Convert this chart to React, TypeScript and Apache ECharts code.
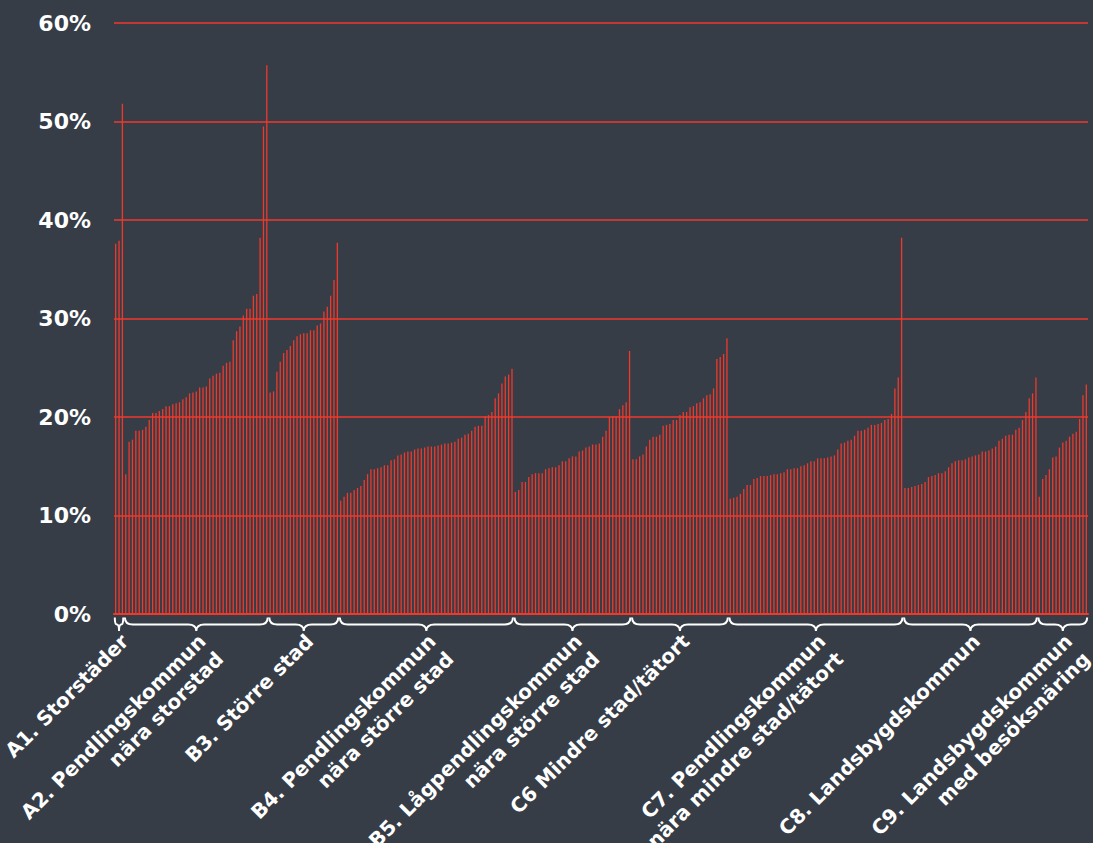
import React, { useEffect, useRef } from "react";
import * as echarts from "echarts";

const groupNames = [
  "A1. Storstäder",
  "A2. Pendlingskommun\nnära storstad",
  "B3. Större stad",
  "B4. Pendlingskommun\nnära större stad",
  "B5. Lågpendlingskommun\nnära större stad",
  "C6 Mindre stad/tätort",
  "C7. Pendlingskommun\nnära mindre stad/tätort",
  "C8. Landsbygdskommun",
  "C9. Landsbygdskommun\nmed besöksnäring",
];

const a1 = [37.6, 37.9, 51.8];
const a2 = [14.2, 17.5, 17.7, 18.6, 18.6, 18.7, 19.0, 19.7, 20.4, 20.4, 20.6, 20.8, 21.1, 21.1, 21.3, 21.4, 21.5, 21.8, 22.0, 22.4, 22.5, 22.6, 23.0, 23.0, 23.1, 23.9, 24.2, 24.4, 24.5, 25.2, 25.5, 25.6, 27.8, 28.7, 29.2, 30.3, 31.0, 31.0, 32.3, 32.5, 38.2, 49.5, 55.7];
const b3 = [22.5, 22.6, 24.6, 25.6, 26.5, 26.8, 27.2, 27.8, 28.2, 28.4, 28.5, 28.5, 28.8, 28.8, 29.3, 29.5, 30.7, 31.2, 32.3, 33.9, 37.7];
const b4 = [11.5, 11.9, 12.3, 12.3, 12.6, 12.8, 13.0, 13.6, 14.2, 14.7, 14.7, 14.8, 14.9, 15.1, 15.1, 15.6, 15.7, 16.1, 16.2, 16.4, 16.5, 16.5, 16.7, 16.8, 16.8, 16.9, 17.0, 17.0, 17.0, 17.1, 17.2, 17.3, 17.3, 17.4, 17.5, 17.8, 17.9, 18.2, 18.3, 18.6, 19.0, 19.1, 19.1, 20.1, 20.2, 20.5, 21.9, 22.4, 23.4, 24.1, 24.3, 24.9];
const b5 = [12.4, 12.6, 13.4, 13.4, 13.9, 14.2, 14.3, 14.3, 14.3, 14.7, 14.8, 14.9, 14.9, 15.1, 15.5, 15.5, 15.8, 16.0, 16.0, 16.5, 16.6, 16.9, 17.0, 17.2, 17.2, 17.3, 18.0, 18.6, 20.0, 20.1, 20.1, 20.8, 21.2, 21.5, 26.7];
const c6 = [15.7, 15.7, 16.0, 16.2, 17.0, 17.7, 18.0, 18.0, 18.2, 19.1, 19.2, 19.3, 19.7, 19.7, 20.2, 20.5, 20.5, 21.0, 21.1, 21.4, 21.5, 21.9, 22.2, 22.3, 22.9, 25.9, 26.1, 26.4, 28.0];
const c7 = [11.7, 11.8, 11.9, 12.2, 12.7, 13.1, 13.1, 13.7, 13.8, 14.0, 14.0, 14.0, 14.1, 14.2, 14.2, 14.3, 14.4, 14.7, 14.7, 14.8, 14.8, 15.0, 15.1, 15.3, 15.5, 15.5, 15.8, 15.8, 15.8, 15.9, 16.0, 16.1, 16.7, 17.3, 17.4, 17.6, 17.7, 18.1, 18.6, 18.6, 18.7, 18.9, 19.2, 19.2, 19.3, 19.4, 19.7, 19.8, 20.3, 22.9, 24.0, 38.2];
const c8 = [12.8, 12.8, 12.9, 13.0, 13.1, 13.2, 13.4, 13.9, 14.0, 14.1, 14.3, 14.3, 14.5, 14.9, 15.3, 15.5, 15.6, 15.6, 15.7, 15.9, 16.0, 16.1, 16.2, 16.5, 16.5, 16.6, 16.8, 17.0, 17.6, 17.8, 18.1, 18.2, 18.2, 18.7, 18.9, 19.7, 20.5, 21.9, 22.4, 24.0];
const c9 = [11.9, 13.7, 14.1, 14.7, 15.9, 16.0, 16.9, 17.4, 17.6, 18.0, 18.3, 18.5, 19.8, 22.2, 23.3];

const groupValues = [a1, a2, b3, b4, b5, c6, c7, c8, c9];
const yTicks = [0, 10, 20, 30, 40, 50, 60];

const RED = "#f0392b";
const BG = "#363d47";
const FONT = '"DejaVu Sans", sans-serif';

export default function App() {
  const ref = useRef<HTMLDivElement>(null);

  useEffect(() => {
    if (!ref.current) return;
    const chart = echarts.init(ref.current, undefined, { renderer: "svg" });

    const values: number[] = [];
    const categories: string[] = [];
    const groupRanges: number[][] = [];
    groupValues.forEach((arr, k) => {
      const start = values.length;
      arr.forEach((v) => {
        values.push(v);
        categories.push(String(values.length));
      });
      groupRanges.push([start, values.length - 1, k]);
    });

    chart.setOption({
      animation: false,
      backgroundColor: BG,
      grid: { left: 114, right: 5, top: 23, bottom: 229, containLabel: false },
      xAxis: {
        type: "category",
        data: categories,
        axisLine: { show: true, lineStyle: { color: RED, width: 2 } },
        axisTick: { show: false },
        axisLabel: { show: false },
        splitLine: { show: false },
      },
      yAxis: {
        type: "value",
        min: yTicks[0],
        max: yTicks[yTicks.length - 1],
        interval: 10,
        axisLine: { show: false },
        axisTick: { show: false },
        axisLabel: {
          formatter: "{value}%",
          color: "#ffffff",
          fontSize: 22,
          fontWeight: "bold",
          fontFamily: FONT,
          margin: 23,
        },
        splitLine: { show: true, lineStyle: { color: RED, width: 1.6 } },
      },
      series: [
        {
          type: "bar",
          data: values,
          barWidth: 1.3,
          itemStyle: { color: RED },
          silent: true,
        },
        {
          type: "custom",
          data: groupRanges,
          encode: { x: 0, y: 2 },
          clip: false,
          silent: true,
          renderItem: (params: any, api: any) => {
            const s = api.value(0);
            const e = api.value(1);
            const k = api.value(2);
            const p1 = api.coord([s, 0]);
            const p2 = api.coord([e, 0]);
            const bw = api.size([1, 0])[0];
            const x1 = p1[0] - bw / 2 + 0.8;
            const x2 = p2[0] + bw / 2 - 0.8;
            const xm = (x1 + x2) / 2;
            const y0 = p1[1] + 3.5;
            const y1 = y0 + 7;
            const y2 = y0 + 13.5;
            const r = Math.min(8, (x2 - x1) / 4);
            const d =
              `M ${x1} ${y0} Q ${x1} ${y1} ${x1 + r} ${y1} L ${xm - r} ${y1} ` +
              `Q ${xm} ${y1} ${xm} ${y2} Q ${xm} ${y1} ${xm + r} ${y1} ` +
              `L ${x2 - r} ${y1} Q ${x2} ${y1} ${x2} ${y0}`;
            return {
              type: "group",
              children: [
                {
                  type: "path",
                  shape: { pathData: d },
                  style: { stroke: "#ffffff", fill: "none", lineWidth: 2 },
                },
                {
                  type: "text",
                  x: xm - 3,
                  y: y2 - 2,
                  rotation: Math.PI / 4,
                  style: {
                    text: groupNames[k],
                    fill: "#ffffff",
                    font: `bold 20px ${FONT}`,
                    align: "right",
                    verticalAlign: "top",
                    lineHeight: 25,
                  },
                },
              ],
            };
          },
        },
      ],
    });

    return () => chart.dispose();
  }, []);

  return (
    <div
      ref={ref}
      style={{ position: "fixed", left: 0, top: 0, width: 1093, height: 843 }}
    />
  );
}
